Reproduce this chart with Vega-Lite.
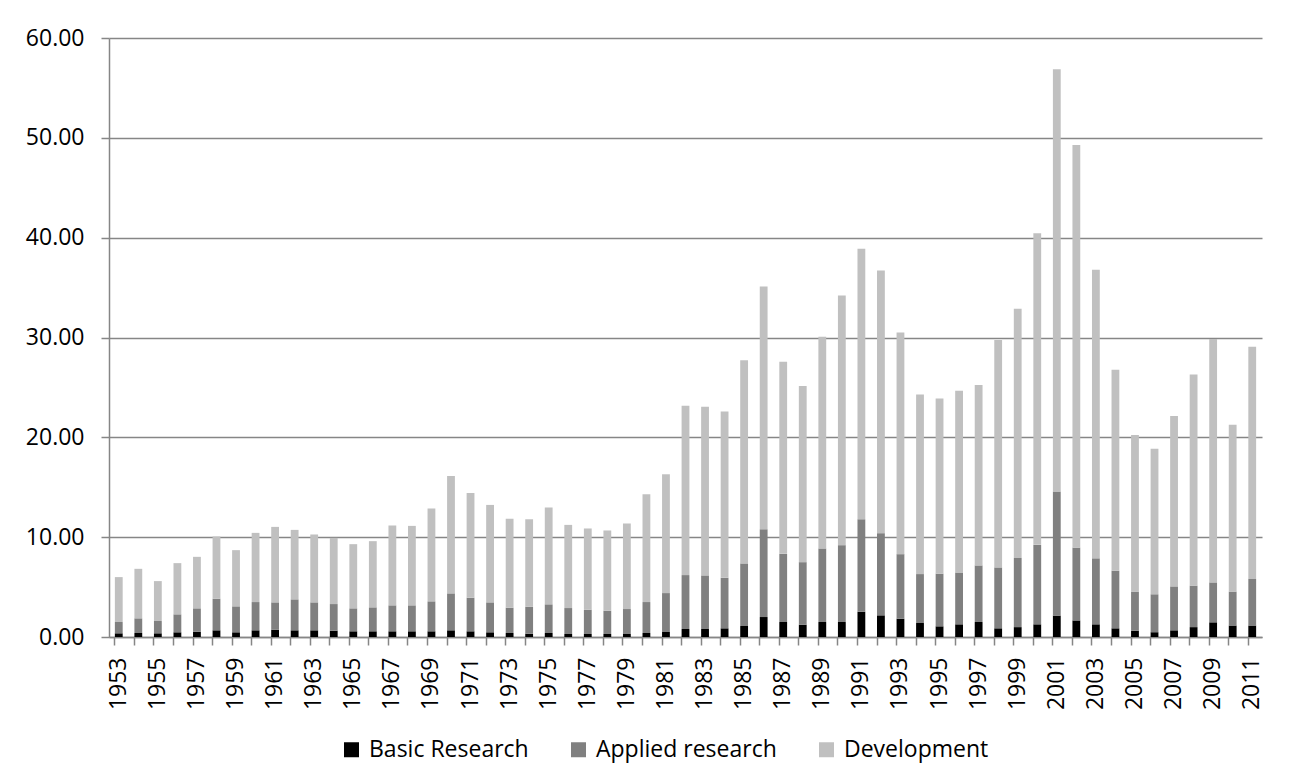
{
  "$schema": "https://vega.github.io/schema/vega-lite/v6.json",
  "autosize": {"type": "none"},
  "width": 1153,
  "height": 599,
  "padding": {"left": 109, "top": 38, "right": 30, "bottom": 147},
  "background": "white",
  "config": {
    "view": {"stroke": null},
    "font": "Open Sans",
    "axis": {
      "labelFont": "Open Sans",
      "labelFontSize": 23,
      "labelColor": "black",
      "domainColor": "#868686",
      "tickColor": "#868686",
      "gridColor": "#868686",
      "gridOpacity": 1,
      "domainWidth": 1.5,
      "tickWidth": 1.5,
      "gridWidth": 1.5,
      "tickSize": 8,
      "title": null
    }
  },
  "datasets": {
    "categories": [
      {"category": "Basic Research", "rank": 1},
      {"category": "Applied research", "rank": 2},
      {"category": "Development", "rank": 3}
    ]
  },
  "data": {
    "values": [
      {"year": "1953", "Basic Research": 0.37, "Applied research": 1.13, "Development": 4.5},
      {"year": "1954", "Basic Research": 0.4, "Applied research": 1.47, "Development": 4.96},
      {"year": "1955", "Basic Research": 0.37, "Applied research": 1.23, "Development": 4.0},
      {"year": "1956", "Basic Research": 0.47, "Applied research": 1.8, "Development": 5.13},
      {"year": "1957", "Basic Research": 0.53, "Applied research": 2.34, "Development": 5.16},
      {"year": "1958", "Basic Research": 0.67, "Applied research": 3.16, "Development": 6.24},
      {"year": "1959", "Basic Research": 0.47, "Applied research": 2.6, "Development": 5.63},
      {"year": "1960", "Basic Research": 0.67, "Applied research": 2.83, "Development": 6.93},
      {"year": "1961", "Basic Research": 0.73, "Applied research": 2.74, "Development": 7.56},
      {"year": "1962", "Basic Research": 0.67, "Applied research": 3.1, "Development": 6.96},
      {"year": "1963", "Basic Research": 0.67, "Applied research": 2.8, "Development": 6.8},
      {"year": "1964", "Basic Research": 0.63, "Applied research": 2.67, "Development": 6.63},
      {"year": "1965", "Basic Research": 0.57, "Applied research": 2.3, "Development": 6.43},
      {"year": "1966", "Basic Research": 0.57, "Applied research": 2.4, "Development": 6.63},
      {"year": "1967", "Basic Research": 0.57, "Applied research": 2.6, "Development": 8.0},
      {"year": "1968", "Basic Research": 0.57, "Applied research": 2.6, "Development": 7.96},
      {"year": "1969", "Basic Research": 0.57, "Applied research": 3.0, "Development": 9.3},
      {"year": "1970", "Basic Research": 0.67, "Applied research": 3.7, "Development": 11.76},
      {"year": "1971", "Basic Research": 0.57, "Applied research": 3.36, "Development": 10.5},
      {"year": "1972", "Basic Research": 0.47, "Applied research": 3.0, "Development": 9.76},
      {"year": "1973", "Basic Research": 0.4, "Applied research": 2.53, "Development": 8.92},
      {"year": "1974", "Basic Research": 0.33, "Applied research": 2.7, "Development": 8.77},
      {"year": "1975", "Basic Research": 0.4, "Applied research": 2.87, "Development": 9.7},
      {"year": "1976", "Basic Research": 0.3, "Applied research": 2.6, "Development": 8.33},
      {"year": "1977", "Basic Research": 0.3, "Applied research": 2.43, "Development": 8.14},
      {"year": "1978", "Basic Research": 0.3, "Applied research": 2.33, "Development": 8.04},
      {"year": "1979", "Basic Research": 0.3, "Applied research": 2.5, "Development": 8.57},
      {"year": "1980", "Basic Research": 0.4, "Applied research": 3.1, "Development": 10.8},
      {"year": "1981", "Basic Research": 0.5, "Applied research": 3.9, "Development": 11.9},
      {"year": "1982", "Basic Research": 0.8, "Applied research": 5.4, "Development": 16.97},
      {"year": "1983", "Basic Research": 0.8, "Applied research": 5.37, "Development": 16.9},
      {"year": "1984", "Basic Research": 0.87, "Applied research": 5.06, "Development": 16.67},
      {"year": "1985", "Basic Research": 1.1, "Applied research": 6.27, "Development": 20.36},
      {"year": "1986", "Basic Research": 2.0, "Applied research": 8.8, "Development": 24.3},
      {"year": "1987", "Basic Research": 1.5, "Applied research": 6.83, "Development": 19.24},
      {"year": "1988", "Basic Research": 1.23, "Applied research": 6.27, "Development": 17.63},
      {"year": "1989", "Basic Research": 1.5, "Applied research": 7.37, "Development": 21.2},
      {"year": "1990", "Basic Research": 1.5, "Applied research": 7.7, "Development": 25.0},
      {"year": "1991", "Basic Research": 2.53, "Applied research": 9.27, "Development": 27.1},
      {"year": "1992", "Basic Research": 2.17, "Applied research": 8.23, "Development": 26.3},
      {"year": "1993", "Basic Research": 1.83, "Applied research": 6.47, "Development": 22.2},
      {"year": "1994", "Basic Research": 1.4, "Applied research": 4.9, "Development": 18.0},
      {"year": "1995", "Basic Research": 1.07, "Applied research": 5.27, "Development": 17.56},
      {"year": "1996", "Basic Research": 1.27, "Applied research": 5.19, "Development": 18.21},
      {"year": "1997", "Basic Research": 1.5, "Applied research": 5.67, "Development": 18.06},
      {"year": "1998", "Basic Research": 0.87, "Applied research": 6.1, "Development": 22.77},
      {"year": "1999", "Basic Research": 0.99, "Applied research": 6.93, "Development": 24.95},
      {"year": "2000", "Basic Research": 1.27, "Applied research": 7.96, "Development": 31.21},
      {"year": "2001", "Basic Research": 2.14, "Applied research": 12.43, "Development": 42.3},
      {"year": "2002", "Basic Research": 1.66, "Applied research": 7.29, "Development": 40.32},
      {"year": "2003", "Basic Research": 1.27, "Applied research": 6.61, "Development": 28.91},
      {"year": "2004", "Basic Research": 0.87, "Applied research": 5.78, "Development": 20.12},
      {"year": "2005", "Basic Research": 0.63, "Applied research": 3.92, "Development": 15.69},
      {"year": "2006", "Basic Research": 0.48, "Applied research": 3.8, "Development": 14.57},
      {"year": "2007", "Basic Research": 0.67, "Applied research": 4.4, "Development": 17.07},
      {"year": "2008", "Basic Research": 0.99, "Applied research": 4.16, "Development": 21.15},
      {"year": "2009", "Basic Research": 1.47, "Applied research": 4.0, "Development": 24.39},
      {"year": "2010", "Basic Research": 1.15, "Applied research": 3.4, "Development": 16.72},
      {"year": "2011", "Basic Research": 1.15, "Applied research": 4.67, "Development": 23.25}
    ]
  },
  "transform": [
    {"fold": ["Basic Research", "Applied research", "Development"], "as": ["category", "value"]},
    {"lookup": "category", "from": {"data": {"name": "categories"}, "key": "category", "fields": ["rank"]}}
  ],
  "mark": {"type": "bar"},
  "encoding": {
    "x": {
      "field": "year",
      "type": "ordinal",
      "scale": {"paddingInner": 0.6, "paddingOuter": 0.3},
      "axis": {
        "labelAngle": -90,
        "labelAlign": "right",
        "labelBaseline": "middle",
        "labelPadding": 12,
        "bandPosition": 0,
        "labelExpr": "parseInt(datum.value) % 2 == 1 ? datum.label : ''",
        "grid": false
      }
    },
    "y": {
      "field": "value",
      "type": "quantitative",
      "stack": "zero",
      "scale": {"domain": [0, 60], "nice": false},
      "axis": {
        "values": [0, 10, 20, 30, 40, 50, 60],
        "format": ".2f",
        "labelPadding": 17,
        "grid": true
      }
    },
    "order": {"field": "rank", "type": "quantitative", "sort": "ascending"},
    "color": {
      "field": "category",
      "type": "nominal",
      "sort": ["Basic Research", "Applied research", "Development"],
      "scale": {
        "domain": ["Basic Research", "Applied research", "Development"],
        "range": ["#000000", "#808080", "#c0c0c0"]
      },
      "legend": {
        "orient": "none",
        "direction": "horizontal",
        "legendX": 231,
        "legendY": 700,
        "title": null,
        "padding": 0,
        "symbolType": "square",
        "symbolSize": 225,
        "symbolStrokeWidth": 0,
        "labelFont": "Open Sans",
        "labelFontSize": 23,
        "labelColor": "black",
        "labelOffset": 6,
        "columnPadding": 38,
        "labelLimit": 400
      }
    }
  }
}
